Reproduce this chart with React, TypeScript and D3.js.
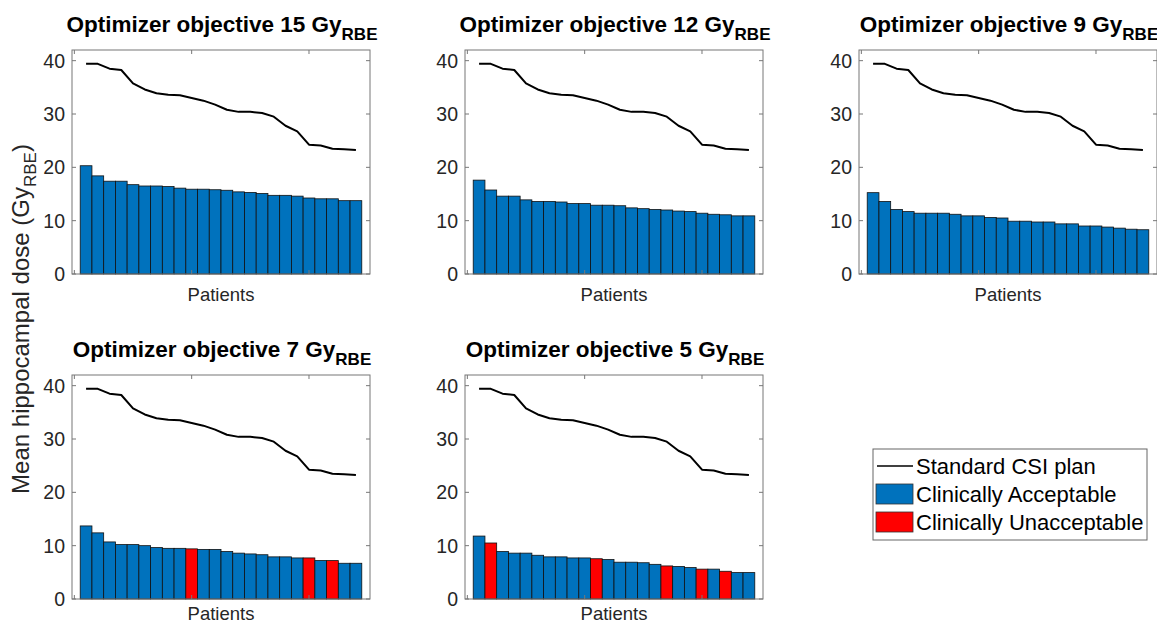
import React, { useRef, useEffect } from "react";
import * as d3 from "d3";

// patient index (sorted by standard plan dose)
const patients = [1, 2, 3, 4, 5, 6, 7, 8, 9, 10, 11, 12, 13, 14, 15, 16, 17, 18, 19, 20, 21, 22, 23, 24];

const standardCSI = [
  39.4, 39.4, 38.5, 38.25, 35.75, 34.6, 33.9, 33.6, 33.5, 33.0, 32.5, 31.75,
  30.8, 30.4, 30.4, 30.2, 29.5, 27.8, 26.75, 24.25, 24.1, 23.5, 23.4, 23.25,
];

const objective15 = [
  20.3, 18.4, 17.4, 17.4, 16.75, 16.5, 16.5, 16.4, 16.1, 15.9, 15.9, 15.8,
  15.7, 15.4, 15.3, 15.1, 14.75, 14.75, 14.6, 14.25, 14.1, 14.1, 13.75, 13.75,
];
const objective12 = [
  17.6, 15.75, 14.6, 14.6, 13.9, 13.6, 13.6, 13.5, 13.2, 13.2, 12.9, 12.9,
  12.8, 12.4, 12.25, 12.1, 12.0, 11.8, 11.7, 11.4, 11.2, 11.1, 10.9, 10.9,
];
const objective9 = [
  15.25, 13.6, 12.1, 11.7, 11.4, 11.4, 11.4, 11.2, 10.9, 10.9, 10.6, 10.5,
  9.9, 9.9, 9.75, 9.75, 9.4, 9.4, 9.0, 9.0, 8.8, 8.6, 8.4, 8.3,
];
const objective7 = [
  13.7, 12.4, 10.7, 10.2, 10.2, 10.0, 9.65, 9.5, 9.5, 9.4, 9.3, 9.3,
  8.9, 8.6, 8.45, 8.3, 7.9, 7.9, 7.7, 7.7, 7.2, 7.2, 6.7, 6.7,
];
const objective5 = [
  11.8, 10.5, 8.9, 8.6, 8.6, 8.2, 7.9, 7.9, 7.7, 7.7, 7.55, 7.4,
  6.9, 6.9, 6.8, 6.5, 6.2, 6.1, 5.9, 5.6, 5.6, 5.2, 4.95, 4.95,
];

// patients whose plan was clinically unacceptable
const unacceptable15: number[] = [];
const unacceptable12: number[] = [];
const unacceptable9: number[] = [];
const unacceptable7 = [10, 20, 22];
const unacceptable5 = [2, 11, 17, 20, 22];

const objectives = ["15", "12", "9", "7", "5"];
const yTicks = [0, 10, 20, 30, 40];
const xTicks = [0, 10, 20];
const legendLabels = ["Standard CSI plan", "Clinically Acceptable", "Clinically Unacceptable"];

const BLUE = "#0072BD";
const RED = "#FF0000";
const FONT = "'Liberation Sans', Arial, Helvetica, sans-serif";

const App = () => {
  const ref = useRef<SVGSVGElement>(null);
  const width = 1157;
  const height = 628;

  useEffect(() => {
    const svg = d3.select(ref.current);
    svg.selectAll("*").remove();
    svg.attr("width", width).attr("height", height);

    const series = [objective15, objective12, objective9, objective7, objective5];
    const bad = [unacceptable15, unacceptable12, unacceptable9, unacceptable7, unacceptable5];

    const colLeft = [72, 465, 859];
    const rowTop = [50, 375];
    const labelGap = [27, 21];
    const pw = 298;
    const ph = 224;

    series.forEach((values, k) => {
      const row = Math.floor(k / 3);
      const left = colLeft[k % 3];
      const top = rowTop[row];
      const g = svg.append("g").attr("transform", `translate(${left},${top})`);

      const x = d3.scaleLinear().domain([-0.2, 25.2]).range([0, pw]);
      const y = d3.scaleLinear().domain([0, 42]).range([ph, 0]);

      // bars
      g.selectAll(".bar")
        .data(values)
        .enter()
        .append("rect")
        .attr("x", (d, i) => x(patients[i] - 0.5))
        .attr("y", (d) => y(d))
        .attr("width", x(1) - x(0))
        .attr("height", (d) => ph - y(d))
        .attr("fill", (d, i) => (bad[k].includes(patients[i]) ? RED : BLUE))
        .attr("stroke", "#111")
        .attr("stroke-width", 0.8);

      // standard plan line
      const line = d3
        .line<number>()
        .x((d, i) => x(patients[i]))
        .y((d) => y(d));
      g.append("path")
        .datum(standardCSI)
        .attr("d", line)
        .attr("fill", "none")
        .attr("stroke", "#000")
        .attr("stroke-width", 2)
        .attr("stroke-linejoin", "round");

      // box
      g.append("rect")
        .attr("width", pw)
        .attr("height", ph)
        .attr("fill", "none")
        .attr("stroke", "#777")
        .attr("stroke-width", 1);

      // ticks (inward, both sides)
      yTicks.forEach((t) => {
        g.append("line").attr("x1", 0).attr("x2", 4).attr("y1", y(t)).attr("y2", y(t)).attr("stroke", "#777");
        g.append("line").attr("x1", pw).attr("x2", pw - 4).attr("y1", y(t)).attr("y2", y(t)).attr("stroke", "#777");
        g.append("text")
          .attr("x", -7)
          .attr("y", y(t))
          .attr("dy", "0.36em")
          .attr("text-anchor", "end")
          .attr("fill", "#262626")
          .style("font-family", FONT)
          .style("font-size", "19.5px")
          .text(t);
      });
      xTicks.forEach((t) => {
        g.append("line").attr("x1", x(t)).attr("x2", x(t)).attr("y1", ph).attr("y2", ph - 4).attr("stroke", "#777");
        g.append("line").attr("x1", x(t)).attr("x2", x(t)).attr("y1", 0).attr("y2", 4).attr("stroke", "#777");
      });

      // x label
      g.append("text")
        .attr("x", pw / 2)
        .attr("y", ph + labelGap[row])
        .attr("text-anchor", "middle")
        .attr("fill", "#262626")
        .style("font-family", FONT)
        .style("font-size", "18.5px")
        .text("Patients");

      // title
      const title = g
        .append("text")
        .attr("x", pw / 2 + 1)
        .attr("y", -18)
        .attr("text-anchor", "middle")
        .attr("fill", "#000")
        .style("font-family", FONT)
        .style("font-size", "22.5px")
        .style("font-weight", "bold");
      title.append("tspan").text(`Optimizer objective ${objectives[k]} Gy`);
      title.append("tspan").attr("dy", 8).style("font-size", "17px").text("RBE");
    });

    // y axis label
    const yl = svg
      .append("text")
      .attr("transform", "translate(29,319) rotate(-90)")
      .attr("text-anchor", "middle")
      .attr("fill", "#262626")
      .style("font-family", FONT)
      .style("font-size", "24px");
    yl.append("tspan").text("Mean hippocampal dose (Gy");
    yl.append("tspan").attr("dy", 7).style("font-size", "17px").text("RBE");
    yl.append("tspan").attr("dy", -7).text(")");

    // legend
    const lg = svg.append("g").attr("transform", "translate(873,449)");
    lg.append("rect")
      .attr("width", 274)
      .attr("height", 91)
      .attr("fill", "#fff")
      .attr("stroke", "#666")
      .attr("stroke-width", 1);
    const rowY = [17, 45, 73];
    lg.append("line")
      .attr("x1", 4)
      .attr("x2", 40)
      .attr("y1", rowY[0])
      .attr("y2", rowY[0])
      .attr("stroke", "#000")
      .attr("stroke-width", 1.5);
    [BLUE, RED].forEach((c, i) => {
      lg.append("rect")
        .attr("x", 3)
        .attr("y", rowY[i + 1] - 10)
        .attr("width", 37)
        .attr("height", 20)
        .attr("fill", c)
        .attr("stroke", "#333")
        .attr("stroke-width", 0.8);
    });
    legendLabels.forEach((t, i) => {
      lg.append("text")
        .attr("x", 43)
        .attr("y", rowY[i])
        .attr("dy", "0.36em")
        .attr("fill", "#000")
        .style("font-family", FONT)
        .style("font-size", "22px")
        .text(t);
    });
  }, []);

  return <svg ref={ref} style={{ position: "absolute", left: 0, top: 0 }}></svg>;
};

export default App;
